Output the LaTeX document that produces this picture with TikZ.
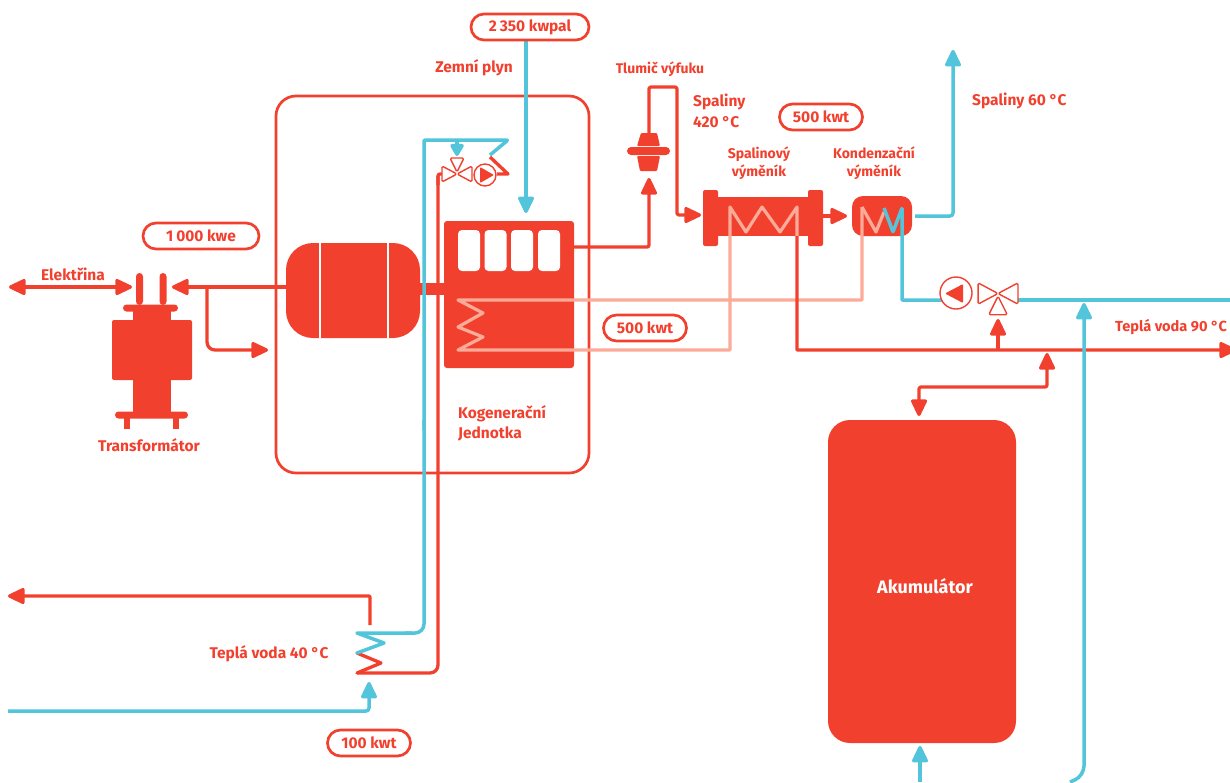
\documentclass[tikz,border=0pt]{standalone}
\usepackage{fontspec}
\setmainfont{Fira Sans}
\usetikzlibrary{arrows.meta}
\definecolor{cogen}{HTML}{F2402E}
\definecolor{cold}{HTML}{52C5DA}
\definecolor{warm}{HTML}{FBAB97}
\tikzset{
	redpipe/.style={draw=cogen,line width=3.3pt,rounded corners=8pt,line join=round},
	bluepipe/.style={draw=cold,line width=3.5pt,rounded corners=3pt,line join=round},
	warmpipe/.style={draw=warm,line width=3.2pt,line join=round},
	tip/.style={-{Triangle[width=17pt,length=19pt,round]}},
	twotip/.style={{Triangle[width=17pt,length=19pt,round]}-{Triangle[width=17pt,length=19pt,round]}},
	solid part/.style={fill=cogen,inner sep=0pt,outer sep=0pt},
	pill/.style={draw=cogen,line width=2.7pt,rounded corners=13pt,minimum height=26pt,inner sep=0pt,text=cogen,font=\bfseries\fontsize{15.5}{18}\selectfont},
	label/.style={text=cogen,inner sep=0pt,align=left,font=\bfseries\fontsize{15.5}{20.5}\selectfont},
	small label/.style={text=cogen,inner sep=0pt,align=center,font=\bfseries\fontsize{14}{18.5}\selectfont},
	window/.style={fill=white,rounded corners=4pt,minimum width=22pt,minimum height=41pt,inner sep=0pt},
	valve part/.style={draw=cogen,line width=1.4pt,fill=white,line join=round,rounded corners=1.5pt},
	threeway/.pic={
		\path[valve part] (-15,-8) -- (0,0) -- (-15,8) -- cycle;
		\path[valve part] (15,-8) -- (0,0) -- (15,8) -- cycle;
		\path[valve part] (-7,16) -- (0,2) -- (7,16) -- cycle;
	},
}
\begin{document}
\begin{tikzpicture}[x=1pt,y=-1pt]
	\clip (0,0) rectangle (1230,782);

	\draw[draw=cogen,line width=2.7pt,rounded corners=20pt] (276,96) rectangle (589,473);

	% pipe ends
	\coordinate (gridL) at (9,287);
	\coordinate (gridR) at (132,287);
	\coordinate (busL) at (172,287);
	\coordinate (busBranch) at (207,287);
	\coordinate (busIn) at (268,350);
	\coordinate (gasOut) at (526,40);
	\coordinate (gasIn) at (526,213);
	\coordinate (stackOut) at (953,50);
	\coordinate (mainOut) at (1236,350);
	\coordinate (storeTap) at (1047,353);
	\coordinate (storeTop) at (919,416);
	\coordinate (storeIn) at (920,746);
	\coordinate (storeBot) at (920,782);
	\coordinate (returnBot) at (1070,782);
	\coordinate (returnTop) at (1084,303);
	\coordinate (valveTap) at (998,319);
	\coordinate (lowRedOut) at (8,596);
	\coordinate (lowBlueIn) at (8,711);
	\coordinate (lowBlueTip) at (369,682);

	\begin{scope}[every node/.style={solid part}]
		% transformer
		\node (neck) at (151.5,360) [minimum width=38pt,minimum height=110pt] {};
		\node (tbody) at (152,350) [minimum width=80pt,minimum height=60pt,rounded corners=2pt] {};
		\node (tcap) at (150.5,308) [minimum width=55pt,minimum height=7pt,rounded corners=3.5pt] {};
		\node (tbase) at (151.5,415) [minimum width=73pt,minimum height=7pt,rounded corners=3.5pt] {};
		\node (pinA) at (139.5,289) [minimum width=7pt,minimum height=32pt,rounded corners=3.5pt] {};
		\node (pinB) at (163,289) [minimum width=7pt,minimum height=32pt,rounded corners=3.5pt] {};
		\node (footA) at (127,423.5) [minimum width=6pt,minimum height=11pt] {};
		\node (footB) at (176,423.5) [minimum width=6pt,minimum height=11pt] {};
		% generator and engine
		\node (shaft) at (432,289) [minimum width=26pt,minimum height=12pt] {};
		\node (generator) at (353,290.5) [minimum width=134pt,minimum height=95pt,rounded corners=27pt] {};
		\node (engine) at (509,294.5) [minimum width=130pt,minimum height=147pt,rounded corners=3pt] {};
		% exhaust parts
		\node (silencer) at (648.5,151) [minimum width=43pt,minimum height=8pt,rounded corners=4pt] {};
		\node (spalHead) at (710.5,218) [minimum width=15pt,minimum height=56pt,rounded corners=2pt] {};
		\node (spalTail) at (815.5,218) [minimum width=15pt,minimum height=56pt,rounded corners=2pt] {};
		\node (spalBody) at (763,216.5) [minimum width=100pt,minimum height=39pt] {};
		\node (kond) at (882,216) [minimum width=60pt,minimum height=40pt,rounded corners=11pt] {};
		\node (store) at (922,581.5) [minimum width=188pt,minimum height=323pt,rounded corners=22pt] {};
	\end{scope}

	\fill[cogen,rounded corners=1pt] (641,133) -- (657,133) -- (660,146) -- (637,146) -- cycle;
	\fill[cogen,rounded corners=1pt] (637,156) -- (660,156) -- (657,171) -- (640,171) -- cycle;

	\draw[white,line width=2.5pt] (320,243) -- (320,338);
	\draw[white,line width=2.5pt] (388,243) -- (388,338);

	\begin{scope}[every node/.style={window}]
		\node (cylA) at (469,250.5) {};
		\node (cylB) at (495.5,250.5) {};
		\node (cylC) at (522,250.5) {};
		\node (cylD) at (549,250.5) {};
	\end{scope}

	% electricity
	\draw[redpipe,twotip] (gridL) -- (gridR);
	\draw[redpipe,tip] (generator.west |- busL) -- (busL);
	\draw[redpipe,tip] (busBranch) -- (207,350) -- (busIn);

	% hot circuit
	\draw[warmpipe] (862,207) -- (862,300) -- (458,300) -- (483,313) -- (458,327) -- (483,337) -- (458,350) -- (730,350) -- (730,207) -- (746,232) -- (762,207) -- (780,232) -- (797,207) -- (797,237);
	\draw[warmpipe] (862,207) -- (876,232) -- (884,212);
	\draw[redpipe,rounded corners=0.5pt,tip] (797,236) -- (797,350) -- (mainOut);

	\draw[bluepipe,rounded corners=10pt,tip] (returnBot) -- (1084,776) -- (returnTop);
	\draw[bluepipe,tip] (storeBot) -- (storeIn);

	% gas and exhaust
	\draw[bluepipe,tip] (gasOut) -- (gasIn);
	\draw[redpipe,rounded corners=2pt,tip] (engine.east |- 0,247) -- (649,247) -- (649,178);
	\draw[redpipe,rounded corners=2pt,tip] (649,133) -- (649,87) -- (677,87) -- (677,215) -- (701,215);
	\draw[redpipe,rounded corners=2pt,tip] (spalTail.east |- 0,216) -- (847,216);
	\draw[bluepipe,tip] (915,216) -- (953,216) -- (stackOut);

	% condensing coil
	\draw[bluepipe,rounded corners=0.5pt] (884,208) -- (893,232) -- (902,208) -- (902,300) -- (942,300);
	\draw[bluepipe] (1018,300) -- (1236,300);

	% storage
	\draw[redpipe,rounded corners=2pt,tip] (998,350) -- (valveTap);
	\draw[redpipe,rounded corners=2pt,twotip] (storeTap) -- (1047,387) -- (919,387) -- (storeTop);

	% low temperature circuit
	\draw[redpipe,rounded corners=1pt,tip] (370,625) -- (370,596) -- (lowRedOut);
	\draw[bluepipe,tip] (lowBlueIn) -- (369,711) -- (lowBlueTip);
	\draw[draw=cogen,line width=3.3pt,rounded corners=8pt] (438,176) -- (438,673) -- (357,673);
	\draw[draw=cogen,line width=3.3pt,line join=round,line cap=round] (357,673) -- (381,663) -- (357,653);
	\draw[draw=cold,line width=3.5pt,line join=round,line cap=round] (357,653) -- (384,643) -- (357,633) -- (412,633);
	\draw[bluepipe,rounded corners=9pt] (405,633) -- (424,633) -- (424,420);
	\draw[bluepipe,rounded corners=1pt] (424,430) -- (424,140) -- (508,140) -- (490,155);
	\draw[bluepipe,rounded corners=0pt,-{Triangle[width=15pt,length=14pt,round]}] (457,140) -- (457,156);
	\draw[draw=cogen,line width=3.3pt,line join=round] (490,157) -- (508,174) -- (497,174);
	\draw[draw=cogen,line width=3.3pt,rounded corners=2pt] (445,174) -- (438,174) -- (438,185);

	% valves and pumps
	\pic (valveA) at (457,174) [yscale=-1] {threeway};
	\pic (valveB) at (998,293.5) [scale=1.33] {threeway};
	\node (pumpA) at (485,175) [circle,draw=cogen,line width=1.4pt,fill=white,minimum size=22pt,inner sep=0pt] {};
	\node (pumpB) at (956,293) [circle,draw=cogen,line width=1.4pt,fill=white,minimum size=32pt,inner sep=0pt] {};
	\fill[cogen,rounded corners=1pt] (480,167) -- (494,175) -- (480,183) -- cycle;
	\fill[cogen,rounded corners=1pt] (963,284) -- (945,293.5) -- (963,303) -- cycle;

	% labels
	\node[pill,minimum width=118pt] (gasPower) at (530,27) {2\hspace{3pt}350 kwpal};
	\node[pill,minimum width=116pt] (elPower) at (201,236) {1\hspace{3pt}000 kwe};
	\node[pill,minimum width=83pt] (heatA) at (645,328) {500 kwt};
	\node[pill,minimum width=83pt] (heatB) at (821,117) {500 kwt};
	\node[pill,minimum width=83pt] (heatC) at (369,743) {100 kwt};

	\node[label] (lblGas) at (474,68) {Zemní plyn};
	\node[label] (lblGrid) at (73,274) {Elektřina};
	\node[label] (lblTrafo) at (149,445) {Transformátor};
	\node[label,anchor=north west] (lblUnit) at (458,405) {Kogenerační\\Jednotka};
	\node[label,anchor=north west] (lblFlue) at (693,94) {Spaliny\\420 °C};
	\node[label,anchor=west] (lblStack) at (972,101) {Spaliny 60 °C};
	\node[label,anchor=west,font=\bfseries\fontsize{14.6}{18}\selectfont] (lblHot) at (1115,327) {Teplá voda 90 °C};
	\node[label] (lblWarm) at (269,654) {Teplá voda 40 °C};
	\node[small label] (lblMuffler) at (660,69) {Tlumič výfuku};
	\node[small label] (lblSpal) at (759,163) {Spalinový\\výměník};
	\node[small label] (lblKond) at (874,163) {Kondenzační\\výměník};
	\node[text=white,inner sep=0pt,font=\bfseries\fontsize{18}{22}\selectfont] (lblStore) at (925,586) {Akumulátor};
\end{tikzpicture}
\end{document}
